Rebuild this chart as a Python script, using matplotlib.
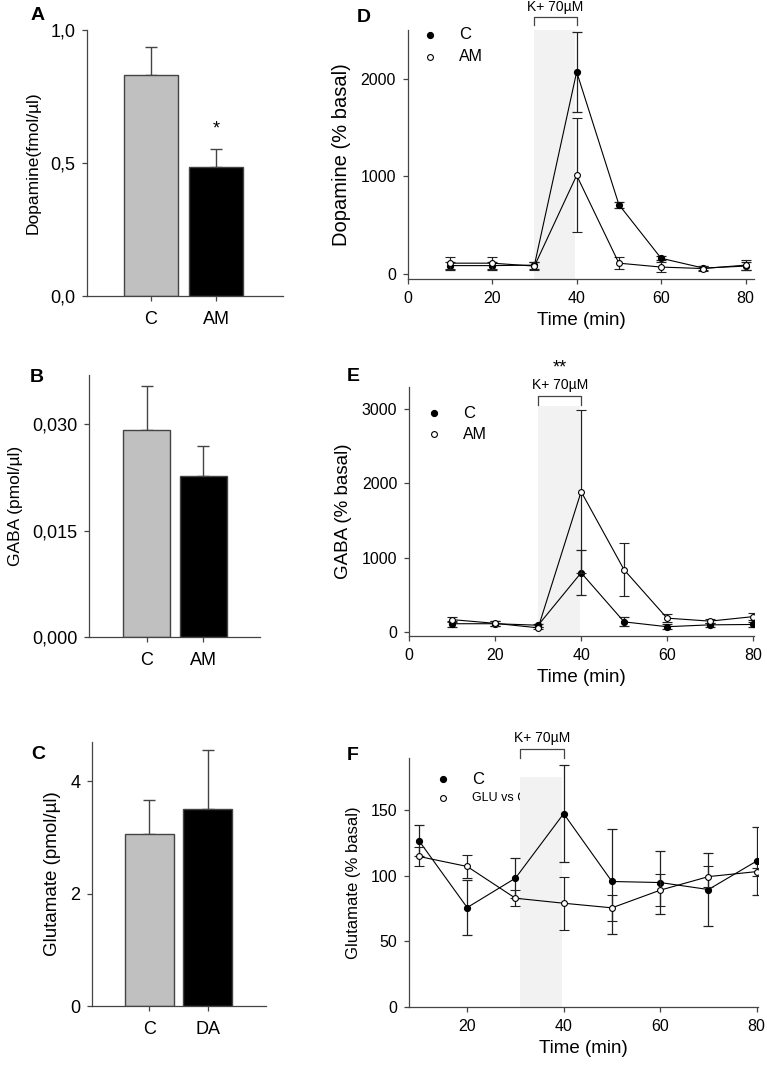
import numpy as np
import matplotlib
matplotlib.use('Agg')
import matplotlib.pyplot as plt
import matplotlib.transforms as mtransforms

plt.rcParams['font.family'] = ['Liberation Sans', 'DejaVu Sans']
plt.rcParams['axes.linewidth'] = 0.9

# bar panels (A, B, C)
bar_groups_ab = ['C', 'AM']
bar_groups_c = ['C', 'DA']
dopa_bar = [0.83, 0.484]
dopa_bar_err = [0.107, 0.067]
gaba_bar = [0.0291, 0.0227]
gaba_bar_err = [0.0062, 0.0042]
glu_bar = [3.06, 3.50]
glu_bar_err = [0.61, 1.06]

# time course panels (D, E, F)
time = [10, 20, 30, 40, 50, 60, 70, 80]
dopa_c = [85, 85, 90, 2070, 710, 160, 60, 80]
dopa_c_err = [40, 40, 35, 410, 30, 20, 20, 40]
dopa_am = [110, 110, 80, 1010, 110, 70, 55, 90]
dopa_am_err = [60, 60, 40, 585, 60, 50, 30, 50]
gaba_c = [115, 115, 95, 800, 140, 75, 100, 105]
gaba_c_err = [40, 30, 20, 300, 60, 30, 30, 30]
gaba_am = [170, 120, 60, 1890, 840, 190, 150, 210]
gaba_am_err = [30, 30, 15, 1100, 355, 50, 30, 50]
glu_c = [126.5, 75.7, 98, 147, 95.5, 94.7, 89.4, 111]
glu_c_err = [12, 21, 15, 37, 40, 24, 27.5, 25.5]
glu_am = [114.5, 106.9, 82.8, 79, 75.5, 88.9, 99.2, 103]
glu_am_err = [7, 9, 6, 20, 10, 12, 8, 3]

EDGE = '#444444'
SHADE = '#f2f2f2'

fig = plt.figure(figsize=(7.67, 10.70), dpi=100)


def style_axes(ax, tick_size, ypad=5, xpad=5):
    for s in ['top', 'right']:
        ax.spines[s].set_visible(False)
    for s in ['left', 'bottom']:
        ax.spines[s].set_color(EDGE)
    ax.tick_params(direction='out', length=3.6, width=0.9, color=EDGE,
                   labelsize=tick_size)
    ax.tick_params(axis='y', pad=ypad)
    ax.tick_params(axis='x', pad=xpad)


def bar_panel(rect, groups, vals, errs, ylim, yticks, yticklabels, ylabel, letter,
              xlim, letter_pos, label_size=12.5):
    ax = fig.add_axes(rect)
    x = np.arange(len(groups))
    ax.bar(x, vals, width=0.83, color=['#c0c0c0', 'black'], edgecolor=EDGE,
           linewidth=1.0, zorder=2)
    ax.errorbar(x, vals, yerr=[np.zeros(len(vals)), errs], fmt='none',
                ecolor=EDGE, elinewidth=1.0, capsize=4.5, capthick=1.0, zorder=1)
    ax.set_xlim(*xlim)
    ax.set_ylim(*ylim)
    ax.set_xticks(x)
    ax.set_xticklabels(groups)
    ax.set_yticks(yticks)
    ax.set_yticklabels(yticklabels)
    ax.set_ylabel(ylabel, fontsize=label_size, labelpad=7)
    style_axes(ax, 13, ypad=4.5, xpad=7)
    ax.text(letter_pos[0], letter_pos[1], letter, transform=ax.transAxes, fontsize=14,
            fontweight='bold', va='center', ha='left')
    return ax


def time_panel(rect, c, c_err, am, am_err, xlim, ylim, xticks, yticks, ylabel, letter,
               shade_top, bracket_y, text_y, label_c, label_am, key_pos, key_step,
               letter_pos, am_size=11.5, shade_span=(30, 40), ylabel_size=12.5):
    ax = fig.add_axes(rect)
    ax.axvspan(shade_span[0], shade_span[1] - 0.3, ymin=0, ymax=shade_top,
               color=SHADE, lw=0, zorder=1)
    ax.errorbar(time, c, yerr=c_err, fmt='-o', color='black', ms=4.2,
                mfc='black', mec='black', lw=0.8, elinewidth=0.9, ecolor='#222222',
                capsize=3.5, capthick=0.9, zorder=3)
    ax.errorbar(time, am, yerr=am_err, fmt='-o', color='black', ms=4.2,
                mfc='white', mec='black', mew=0.8, lw=0.8, elinewidth=0.9,
                ecolor='#222222', capsize=3.5, capthick=0.9, zorder=4)
    ax.set_xlim(*xlim)
    ax.set_ylim(*ylim)
    ax.set_xticks(xticks)
    ax.set_yticks(yticks)
    ax.set_xlabel('Time (min)', fontsize=13.5, labelpad=4)
    ax.set_ylabel(ylabel, fontsize=ylabel_size, labelpad=7)
    style_axes(ax, 11.5, ypad=5, xpad=5)
    # K+ bracket
    trans = mtransforms.blended_transform_factory(ax.transData, ax.transAxes)
    b0, b1 = shade_span
    ax.plot([b0, b0, b1, b1], [bracket_y - 0.035, bracket_y, bracket_y, bracket_y - 0.035],
            transform=trans, color=EDGE, lw=0.9, clip_on=False)
    ax.text((b0 + b1) / 2, text_y, 'K+ 70\u00b5M', transform=trans, fontsize=10,
            ha='center', va='center')
    # key
    kx, ky = key_pos
    ax.plot([kx], [ky], 'o', ms=4.2, color='black', transform=ax.transAxes,
            clip_on=False, zorder=0.5)
    ax.plot([kx], [ky - key_step], 'o', ms=4.2, mfc='white', mec='black', mew=0.8,
            transform=ax.transAxes, clip_on=False, zorder=0.5)
    ax.text(kx + 0.085, ky, label_c, transform=ax.transAxes, fontsize=12,
            va='center', zorder=0.5)
    ax.text(kx + 0.085, ky - key_step, label_am, transform=ax.transAxes,
            fontsize=am_size, va='center', zorder=0.5)
    ax.text(letter_pos[0], letter_pos[1], letter, transform=ax.transAxes, fontsize=14,
            fontweight='bold', va='center', ha='left')
    return ax, trans


# A
axA = bar_panel([0.1134, 0.7234, 0.2555, 0.2486], bar_groups_ab, dopa_bar, dopa_bar_err,
                (0, 1.0), [0, 0.5, 1.0], ['0,0', '0,5', '1,0'], 'Dopamine(fmol/\u00b5l)', 'A',
                (-0.985, 2.03), (-0.29, 1.055))
axA.text(1, dopa_bar[1] + dopa_bar_err[1] + 0.075, '*', ha='center', va='center', fontsize=13)

# B
bar_panel([0.116, 0.4044, 0.2229, 0.2451], bar_groups_ab, gaba_bar, gaba_bar_err,
          (0, 0.0369), [0, 0.015, 0.030], ['0,000', '0,015', '0,030'], 'GABA (pmol/\u00b5l)', 'B',
          (-1.02, 2.0), (-0.345, 0.99))

# C
bar_panel([0.1196, 0.0598, 0.2269, 0.247], bar_groups_c, glu_bar, glu_bar_err,
          (0, 4.7), [0, 2, 4], ['0', '2', '4'], 'Glutamate (pmol/\u00b5l)', 'C',
          (-0.99, 2.0), (-0.35, 0.953), label_size=13.5)

# D
time_panel([0.5316, 0.739, 0.4515, 0.233], dopa_c, dopa_c_err, dopa_am, dopa_am_err,
           (0, 82), (-55, 2500), [0, 20, 40, 60, 80], [0, 1000, 2000],
           'Dopamine (% basal)', 'D', 1.0, 1.053, 1.091, 'C', 'AM', (0.064, 0.98), 0.088,
           (-0.146, 1.05), ylabel_size=14.5)

# E
axE, transE = time_panel([0.5336, 0.4056, 0.4498, 0.233], gaba_c, gaba_c_err, gaba_am,
                         gaba_am_err, (0, 80.3), (-50, 3300), [0, 20, 40, 60, 80],
                         [0, 1000, 2000, 3000], 'GABA (% basal)', 'E', 0.924, 0.963, 1.007,
                         'C', 'AM', (0.072, 0.893), 0.083, (-0.18, 1.04), ylabel_size=13.5)
axE.text(35, 1.075, '**', transform=transE, ha='center', va='center', fontsize=13)

# F
time_panel([0.5336, 0.0586, 0.4542, 0.2327], glu_c, glu_c_err, glu_am, glu_am_err,
           (8, 80.2), (0, 189), [20, 40, 60, 80], [0, 50, 100, 150],
           'Glutamate (% basal)', 'F', 175 / 189, 1.036, 1.08, 'C', 'GLU vs C',
           (0.096, 0.916), 0.074, (-0.18, 1.013), am_size=9, shade_span=(31, 40),
           ylabel_size=12)

fig.savefig('out.png', dpi=100, facecolor='white')
